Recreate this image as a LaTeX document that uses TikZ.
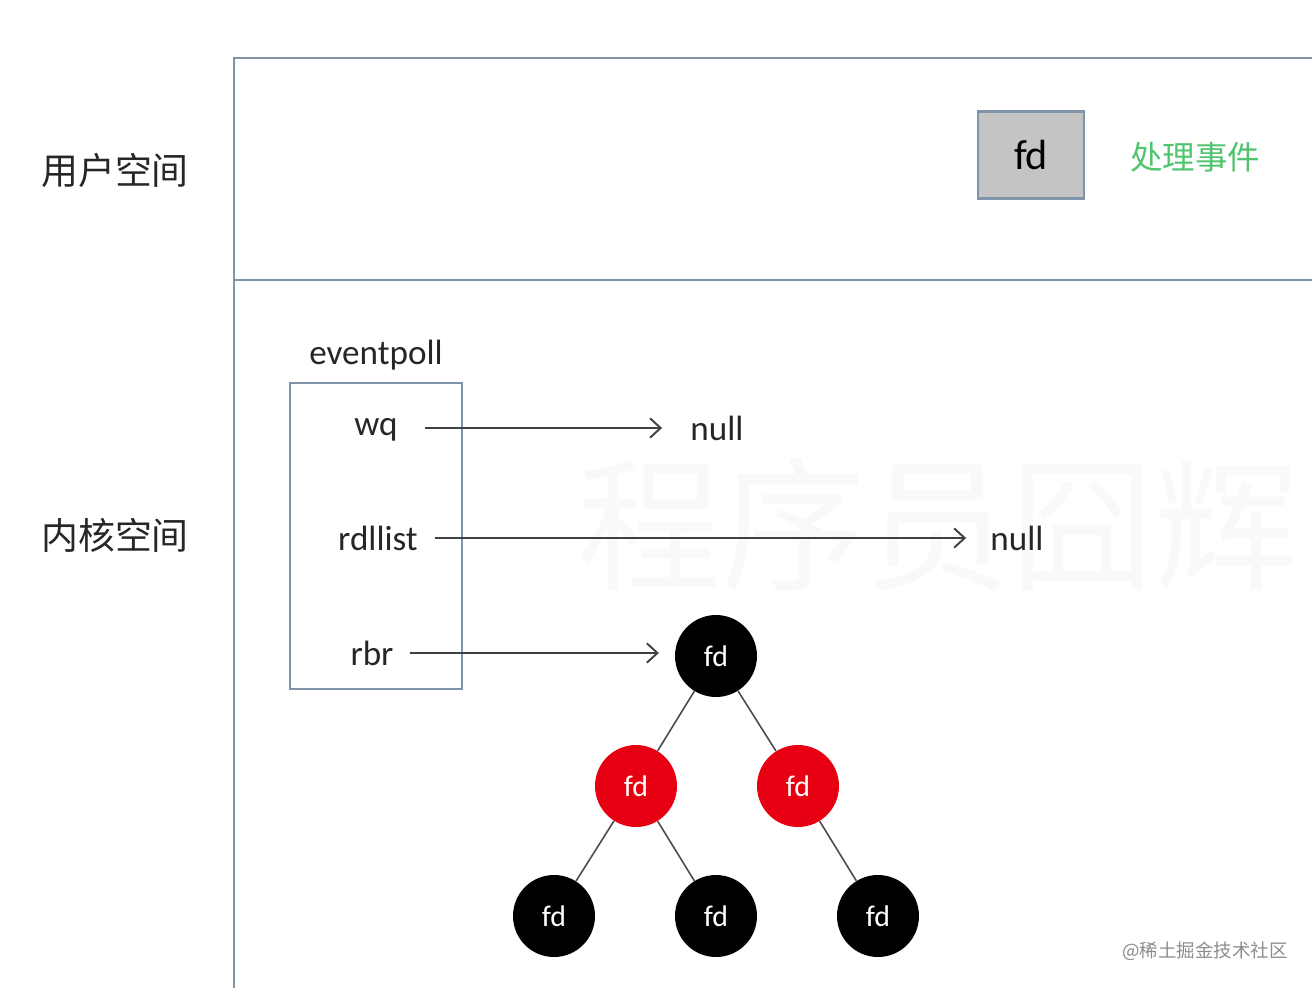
\documentclass[tikz,border=0pt]{standalone}
\usepackage{fontspec}
\setmainfont{Carlito}
\newfontfamily\cjk{Noto Sans CJK SC}
\usepackage{tikz}
\usepackage{xcolor}
\usetikzlibrary{arrows.meta}
\definecolor{frameblue}{RGB}{128,148,170}
\definecolor{evgreen}{RGB}{80,196,110}
\definecolor{rbred}{RGB}{230,0,18}
\tikzset{
  frameline/.style={draw=frameblue, line width=1.2pt},
  spacelabel/.style={font=\cjk\fontsize{21}{24}\selectfont, text=black!85},
  field/.style={inner sep=0pt, font=\fontsize{20}{24}\selectfont, text=black!85},
  ptr/.style={draw=black!75, line width=1.1pt, -{Straight Barb[length=6pt,width=11pt]}},
  rbnode/.style={circle, minimum size=1.64cm, inner sep=0pt, text=white,
    font=\fontsize{17}{20}\selectfont},
  blacknode/.style={rbnode, fill=black},
  rednode/.style={rbnode, fill=rbred},
  treeedge/.style={draw=black!70, line width=0.9pt},
}

\begin{document}
\begin{tikzpicture}[x=0.02cm, y=-0.02cm]
  \useasboundingbox (0,0) rectangle (1312,988);

  % watermark
  \node[text=black!2.5, font=\cjk\fontsize{82}{90}\selectfont] (wm) at (938,525) {程序员囧辉};

  % the two spaces
  \draw[frameline] (1312,58) -- (234,58) -- (234,988);
  \draw[frameline] (234,280) -- (1312,280);
  \node[spacelabel] (user)   at (115,170) {用户空间};
  \node[spacelabel] (kernel) at (115,535) {内核空间};

  % user space
  \node[draw=frameblue, line width=1.2pt, fill=black!23, minimum width=2.12cm,
        minimum height=1.74cm, font=\fontsize{24}{28}\selectfont] (ufd) at (1031,155) {fd};
  \node[text=evgreen, font=\cjk\fontsize{18.5}{22}\selectfont] (handle) at (1195,157) {处理事件};

  % eventpoll
  \node[field] (evlabel) at (376,355) {eventpoll};
  \node[frameline, minimum width=3.44cm, minimum height=6.12cm] (ep) at (376,536) {};
  \node[field] (wq)      at (376,430) {wq};
  \node[field] (rdllist) at (378,538) {rdllist};
  \node[field] (rbr)     at (372,653) {rbr};
  \node[field, anchor=west] (wqnull) at (690,428) {null};
  \node[field, anchor=west] (rdnull) at (990,538) {null};

  % red-black tree
  \node[blacknode] (root) at (716,656) {fd};
  \node[rednode]   (l)    at (636,786) {fd};
  \node[rednode]   (r)    at (798,786) {fd};
  \node[blacknode] (ll)   at (554,916) {fd};
  \node[blacknode] (lr)   at (716,916) {fd};
  \node[blacknode] (rr)   at (878,916) {fd};
  \draw[treeedge] (root) -- (l);
  \draw[treeedge] (root) -- (r);
  \draw[treeedge] (l) -- (ll);
  \draw[treeedge] (l) -- (lr);
  \draw[treeedge] (r) -- (rr);

  \draw[ptr, shorten <=15.3pt, shorten >=15.9pt] (wq.east|-wqnull.west) -- (wqnull.west);
  \draw[ptr, shorten <=9.6pt, shorten >=13.6pt] (rdllist.east|-rdnull.west) -- (rdnull.west);
  \draw[ptr, shorten <=9pt, shorten >=9pt] (rbr.east) -- (rbr.east-|root.west);

  \node[text=black!45, font=\cjk\fontsize{10.5}{12}\selectfont] (juejin) at (1205,951) {@稀土掘金技术社区};
\end{tikzpicture}
\end{document}
